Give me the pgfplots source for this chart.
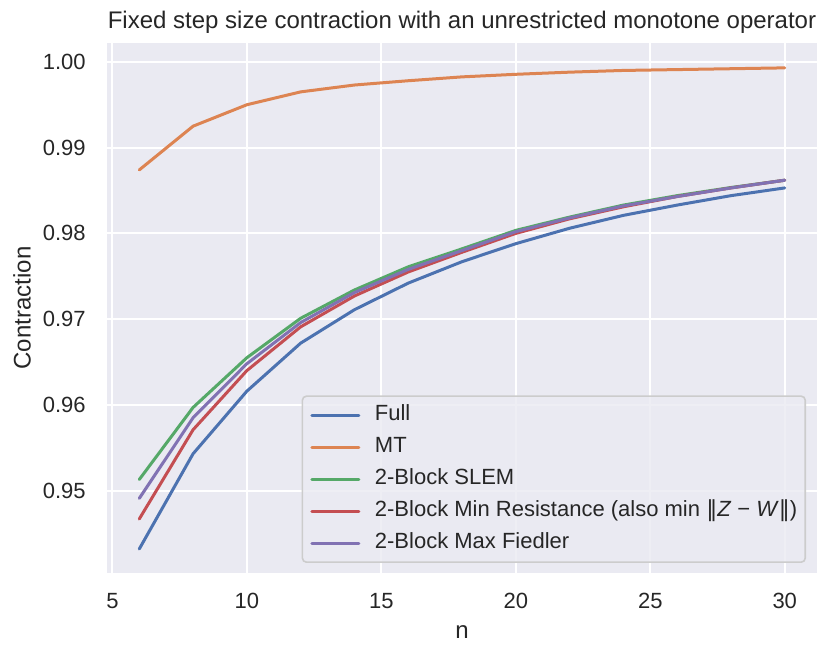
\documentclass[border=0pt]{standalone}
\usepackage{fontspec}
\setmainfont{Liberation Sans}
\newfontfamily\dejavu{DejaVu Sans}
\usepackage{pgfplots}
\pgfplotsset{compat=1.18}
\definecolor{bgc}{HTML}{EAEAF2}
\definecolor{txt}{HTML}{262626}
\definecolor{cblue}{HTML}{4C72B0}
\definecolor{corange}{HTML}{DD8452}
\definecolor{cgreen}{HTML}{55A868}
\definecolor{cred}{HTML}{C44E52}
\definecolor{cpurple}{HTML}{8172B3}
\definecolor{legedge}{HTML}{CCCCCC}
\begin{document}
\begin{tikzpicture}
\useasboundingbox (-53.5bp,-42bp) rectangle (362bp,286.5bp);
\begin{axis}[
  at={(0,0)}, anchor=south west,
  scale only axis, width=355bp, height=265bp,
  xmin=4.8, xmax=31.2, ymin=0.9404, ymax=1.0022,
  axis background/.style={fill=bgc},
  axis line style={draw=none},
  grid=major, major grid style={white, line width=1bp},
  major tick length=0pt,
  xtick={5,10,15,20,25,30},
  ytick={0.95,0.96,0.97,0.98,0.99,1.00},
  /pgf/number format/assume math mode=true,
  y tick label style={/pgf/number format/fixed, /pgf/number format/fixed zerofill, /pgf/number format/precision=2},
  xticklabel style={font=\fontsize{11bp}{13bp}\selectfont, text=txt, anchor=center, inner sep=0pt, yshift=-14bp},
  yticklabel style={font=\fontsize{11bp}{13bp}\selectfont, text=txt, anchor=east, inner sep=0pt, xshift=-10.5bp},
  xlabel={n}, ylabel={Contraction},
  xlabel style={at={(axis description cs:0.5,-0.1113)}, anchor=center, font=\fontsize{12bp}{14bp}\selectfont, text=txt, inner sep=0pt},
  ylabel style={at={(axis description cs:-0.1197,0.5)}, anchor=center, font=\fontsize{12bp}{14bp}\selectfont, text=txt, inner sep=0pt},
  title={Fixed step size contraction with an unrestricted monotone operator},
  title style={at={(axis description cs:0.5,1.0170)}, anchor=center, font=\fontsize{12bp}{14bp}\selectfont, text=txt, inner sep=0pt},
  every axis plot/.append style={line width=1.5bp, line join=round, line cap=round},
  legend cell align=left,
  legend image code/.code={\draw[#1] (0bp,0bp) -- (23.5bp,0bp); \path[draw=none,fill=none] (0bp,0bp) -- (31.5bp,0bp);},
  legend style={at={(axis description cs:0.9845,0.0189)}, anchor=south east,
    fill=bgc, fill opacity=0.8, text opacity=1, draw=legedge, draw opacity=1, rounded corners=2bp, line width=0.8bp,
    font=\fontsize{11bp}{13bp}\selectfont, text=txt,
    inner xsep=4bp, inner ysep=4bp, row sep=5bp,
    nodes={inner sep=0pt, text height=8bp, text depth=3bp}},
]
\addplot[cblue] coordinates {(6,0.9432) (8,0.9543) (10,0.9616) (12,0.9672) (14,0.9711) (16,0.9742) (18,0.9767) (20,0.9788) (22,0.9806) (24,0.9821) (26,0.9833) (28,0.9844) (30,0.9853)};
\addlegendentry{Full}
\addplot[corange] coordinates {(6,0.9874) (8,0.9925) (10,0.9950) (12,0.9965) (14,0.9973) (16,0.9978) (18,0.99825) (20,0.99855) (22,0.9988) (24,0.9990) (26,0.9991) (28,0.9992) (30,0.9993)};
\addlegendentry{MT}
\addplot[cgreen] coordinates {(6,0.9513) (8,0.9597) (10,0.9655) (12,0.9701) (14,0.9734) (16,0.9761) (18,0.9782) (20,0.98035) (22,0.9819) (24,0.9833) (26,0.9844) (28,0.98535) (30,0.9862)};
\addlegendentry{2-Block SLEM}
\addplot[cred] coordinates {(6,0.9467) (8,0.9571) (10,0.9640) (12,0.9691) (14,0.9727) (16,0.9755) (18,0.9778) (20,0.9800) (22,0.9817) (24,0.9831) (26,0.9843) (28,0.9853) (30,0.9862)};
\addlegendentry{2-Block Min Resistance (also min {\dejavu ‖}\textit{Z} − \textit{W}{\dejavu ‖})}
\addplot[cpurple] coordinates {(6,0.9491) (8,0.9585) (10,0.9648) (12,0.9696) (14,0.9731) (16,0.9758) (18,0.9780) (20,0.9802) (22,0.9818) (24,0.9832) (26,0.9843) (28,0.9853) (30,0.9862)};
\addlegendentry{2-Block Max Fiedler}
\end{axis}
\end{tikzpicture}
\end{document}
